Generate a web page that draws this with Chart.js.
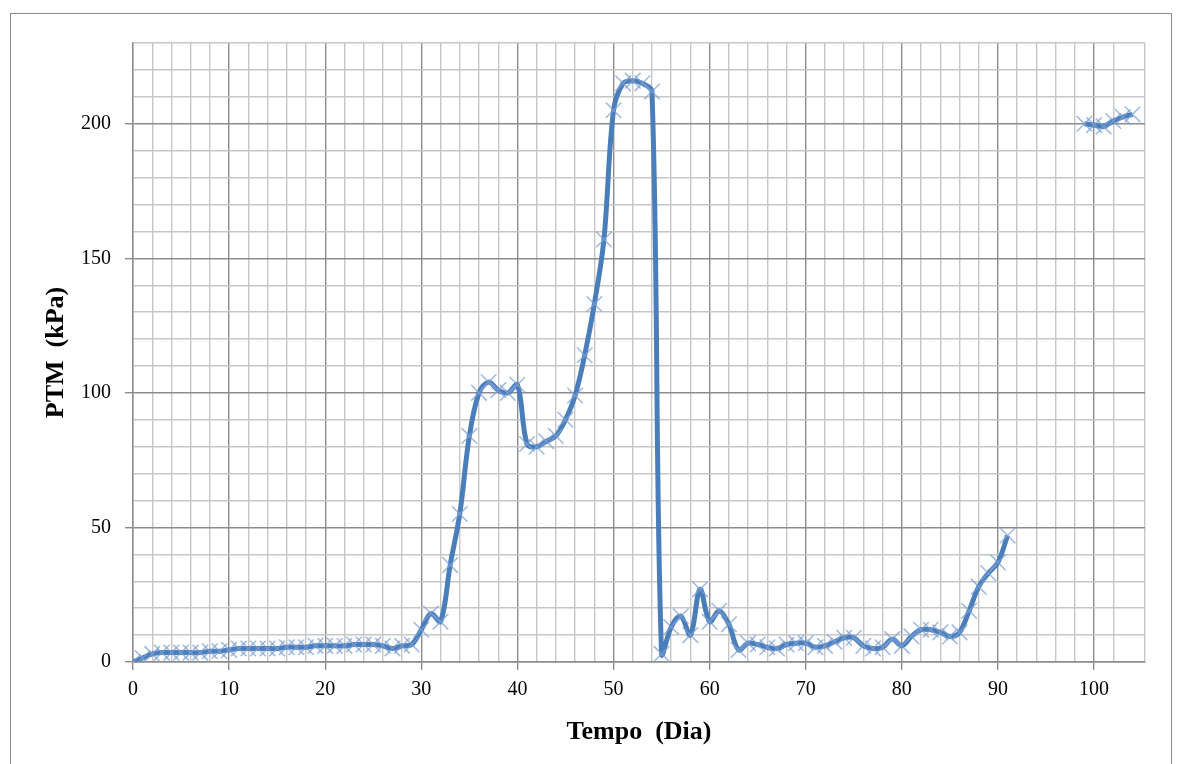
<!DOCTYPE html>
<html>
<head>
<meta charset="utf-8">
<script src="https://cdn.jsdelivr.net/npm/chart.js@4"></script>
<style>
  html, body { margin: 0; padding: 0; background: #fff; }
  #wrap { width: 1177px; height: 764px; }
</style>
</head>
<body>
<div id="wrap"><canvas id="chart"></canvas></div>
<script>
// Tempo (Dia) -> PTM (kPa); null marks the gap between day 91 and 99
const days = [0, 1, 2, 3, 4, 5, 6, 7, 8, 9, 10, 11, 12, 13, 14, 15, 16, 17, 18, 19,
  20, 21, 22, 23, 24, 25, 26, 27, 28, 29, 30, 31, 32, 33, 34, 35, 36, 37, 38, 39,
  40, 41, 42, 43, 44, 45, 46, 47, 48, 49, 50, 51, 52, 53, 54, 55, 56, 57, 58, 59,
  60, 61, 62, 63, 64, 65, 66, 67, 68, 69, 70, 71, 72, 73, 74, 75, 76, 77, 78, 79,
  80, 81, 82, 83, 84, 85, 86, 87, 88, 89, 90, 91, 95, 99, 100, 101, 102, 103, 104];
const ptm = [0, 1.5, 3, 3.5, 3.5, 3.5, 3.5, 3.5, 4, 4, 4.5, 5, 5, 5, 5, 5, 5.5, 5.5, 5.5, 6,
  6, 6, 6, 6.5, 6.5, 6.5, 6, 5, 6, 6.5, 12, 18, 15, 36, 55, 84, 100, 104, 101, 100,
  103, 81, 80, 82, 84, 90, 99, 114, 133, 157, 205, 215, 216, 215, 212, 3, 13, 17, 10, 27,
  15, 19, 14, 4.5, 7, 6.5, 5.5, 5, 6.5, 7, 7, 5.5, 6, 7.5, 9, 9, 6, 5, 5.5, 8.5,
  6, 9.5, 12, 12, 11, 9.5, 11, 19, 28, 33, 37, 47, null, 200, 199.5, 199, 201, 202.5, 203.5];

const xMax = 105.3;
const yMax = 230;

const frame = {
  id: 'frame',
  beforeDraw(chart) {
    const ctx = chart.ctx;
    ctx.save();
    ctx.fillStyle = '#fff';
    ctx.fillRect(0, 0, chart.width, chart.height);
    ctx.strokeStyle = '#8a8a8a';
    ctx.lineWidth = 1;
    ctx.strokeRect(10.5, 13.5, 1161, 800);
    ctx.restore();
  }
};

const serif = "'Liberation Serif', 'Times New Roman', serif";

new Chart(document.getElementById('chart'), {
  type: 'line',
  data: {
    datasets: [{
      data: days.map((d, i) => ({ x: d, y: ptm[i] })),
      borderColor: '#4a7ebb',
      borderWidth: 5,
      tension: 0.35,
      spanGaps: false,
      pointStyle: 'crossRot',
      pointRadius: 11,
      pointBorderColor: 'rgba(125,162,214,0.75)',
      pointBorderWidth: 1.5,
      pointBackgroundColor: 'rgba(125,162,214,0.75)'
    }]
  },
  options: {
    responsive: true,
    maintainAspectRatio: false,
    animation: false,
    layout: { padding: { top: 43, right: 32, left: 0, bottom: 0 } },
    plugins: { legend: { display: false }, tooltip: { enabled: false } },
    scales: {
      x: {
        type: 'linear',
        min: 0,
        max: xMax,
        afterFit(scale) { scale.height = 102; },
        afterBuildTicks(scale) {
          scale.ticks = scale.ticks.filter(t => t.value <= 104);
          scale.ticks.push({ value: xMax });
        },
        ticks: {
          stepSize: 2,
          autoSkip: false,
          maxRotation: 0,
          padding: 8,
          color: '#000',
          font: { family: serif, size: 20 },
          callback: v => (v % 10 === 0 ? v : '')
        },
        grid: {
          color: c => (c.tick && c.tick.value % 10 === 0 ? '#8c8c8c' : '#c6c6c6'),
          lineWidth: 1.4,
          tickLength: 8,
          tickColor: c => (c.tick && c.tick.value % 10 === 0 ? '#8c8c8c' : 'rgba(0,0,0,0)')
        },
        border: { color: '#8c8c8c', width: 1.4 },
        title: {
          display: true,
          text: 'Tempo  (Dia)',
          color: '#000',
          font: { family: serif, size: 26, weight: 'bold' },
          padding: { top: 0, bottom: 16 }
        }
      },
      y: {
        min: 0,
        max: yMax,
        afterFit(scale) { scale.width = 133; },
        ticks: {
          stepSize: 10,
          autoSkip: false,
          padding: 14,
          color: '#000',
          font: { family: serif, size: 20 },
          callback: v => (v % 50 === 0 ? v : '')
        },
        grid: {
          color: c => (c.tick && c.tick.value % 50 === 0 ? '#8c8c8c' : '#c6c6c6'),
          lineWidth: 1.4,
          tickLength: 8,
          tickColor: c => (c.tick && c.tick.value % 50 === 0 ? '#8c8c8c' : 'rgba(0,0,0,0)')
        },
        border: { color: '#8c8c8c', width: 1.4 },
        title: {
          display: true,
          text: 'PTM  (kPa)',
          color: '#000',
          font: { family: serif, size: 26, weight: 'bold' },
          padding: { top: 41, bottom: 0 }
        }
      }
    }
  },
  plugins: [frame]
});
</script>
</body>
</html>
